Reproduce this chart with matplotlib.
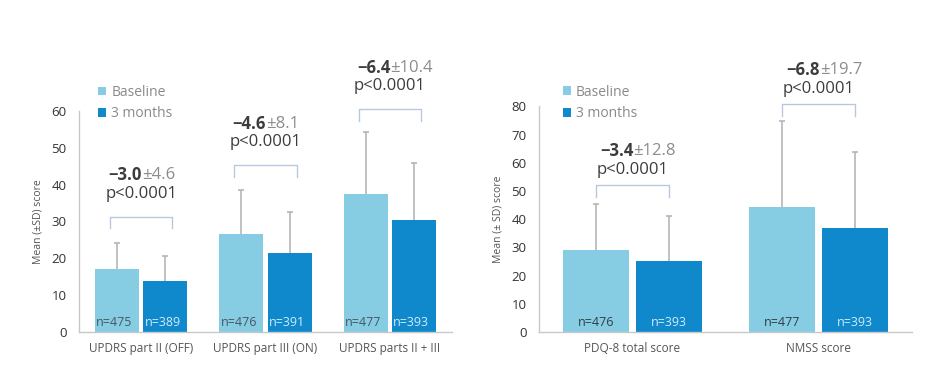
import numpy as np
import matplotlib
matplotlib.use('Agg')
import matplotlib.pyplot as plt

plt.rcParams['font.family'] = ['Open Sans', 'DejaVu Sans']

# left panel data
left_cats = ['UPDRS part II (OFF)', 'UPDRS part III (ON)', 'UPDRS parts II + III']
left_base = [17.1, 26.5, 37.4]
left_base_sd = [7.1, 12.1, 17.0]
left_3m = [13.9, 21.5, 30.4]
left_3m_sd = [6.8, 11.0, 15.4]
left_n_base = ['n=475', 'n=476', 'n=477']
left_n_3m = ['n=389', 'n=391', 'n=393']
left_diff = ['\u22123.0', '\u22124.6', '\u22126.4']
left_diff_sd = ['\u00b14.6', '\u00b18.1', '\u00b110.4']
left_p = ['p<0.0001', 'p<0.0001', 'p<0.0001']
left_bracket = [31.3, 45.3, 60.5]

# right panel data
right_cats = ['PDQ-8 total score', 'NMSS score']
right_base = [29.1, 44.5]
right_base_sd = [16.4, 30.4]
right_3m = [25.2, 36.9]
right_3m_sd = [15.8, 26.8]
right_n_base = ['n=476', 'n=477']
right_n_3m = ['n=393', 'n=393']
right_diff = ['\u22123.4', '\u22126.8']
right_diff_sd = ['\u00b112.8', '\u00b119.7']
right_p = ['p<0.0001', 'p<0.0001']
right_bracket = [52.1, 80.8]

LIGHT = '#86cde4'
DARK = '#0f88cc'
GREY_LINE = '#c8c8c8'
TXT = '#3c3c3c'

fig = plt.figure(figsize=(9.4, 3.7), dpi=100)
ax1 = fig.add_axes([79 / 940, 38 / 370, 373 / 940, 221 / 370])
ax2 = fig.add_axes([539 / 940, 38 / 370, 373 / 940, 225.6 / 370])

w = 0.355
off = 0.195


def draw_panel(ax, cats, base, base_sd, m3, m3_sd, nb, n3, diff, diff_sd, pv,
               br, ymax, ylabel, br_half, txt_gap, n_left, leg_pos):
    x = np.arange(len(cats))
    b1 = ax.bar(x - off, base, w, color=LIGHT, label='Baseline', zorder=2)
    b2 = ax.bar(x + off, m3, w, color=DARK, label='3 months', zorder=2)
    for xs, ys, sd in [(x - off, base, base_sd), (x + off, m3, m3_sd)]:
        eb = ax.errorbar(xs, ys, yerr=[np.zeros(len(x)), sd], fmt='none',
                         ecolor='#b0b0b0', elinewidth=1.1, capsize=2,
                         capthick=1.1, zorder=1)
        eb[1][0].set_visible(False)  # hide lower cap

    for i in range(len(x)):
        if n_left:
            ax.text(x[i] - off - w / 2 + 0.01, 0.8, nb[i], ha='left', va='bottom',
                    fontsize=9, color='#4a5560', zorder=3)
            ax.text(x[i] + off - w / 2 + 0.01, 0.8, n3[i], ha='left', va='bottom',
                    fontsize=9, color='#d4ecf8', zorder=3)
        else:
            ax.text(x[i] - off, 0.8 * ymax / 60, nb[i], ha='center', va='bottom',
                    fontsize=9, color='#333d45', zorder=3)
            ax.text(x[i] + off, 0.8 * ymax / 60, n3[i], ha='center', va='bottom',
                    fontsize=9, color='#d4ecf8', zorder=3)

        # bracket
        tick = ymax * 0.052
        ax.plot([x[i] - br_half, x[i] - br_half, x[i] + br_half, x[i] + br_half],
                [br[i] - tick, br[i], br[i], br[i] - tick],
                color='#b8c8dc', lw=1.0, clip_on=False, zorder=3)
        # labels above bracket
        ax.text(x[i] + 0.005, br[i] + txt_gap[1], diff[i], ha='right', va='center',
                fontsize=12, fontweight='bold', color=TXT, clip_on=False)
        ax.text(x[i] + 0.005, br[i] + txt_gap[1], diff_sd[i], ha='left', va='center',
                fontsize=12, color='#8c8c8c', clip_on=False)
        ax.text(x[i], br[i] + txt_gap[0], pv[i], ha='center', va='center',
                fontsize=12, color=TXT, clip_on=False)

    ax.set_xlim(-0.5, len(cats) - 0.5)
    ax.set_ylim(0, ymax)
    ax.set_xticks(x)
    ax.set_xticklabels(cats, fontsize=8.5, color='#555555')
    ax.set_yticks(np.arange(0, ymax + 1, 10))
    ax.tick_params(axis='y', length=0, pad=9, labelsize=9.5, labelcolor='#333333')
    ax.tick_params(axis='x', length=0, pad=7)
    ax.set_ylabel(ylabel, fontsize=7.5, color='#555555', labelpad=6)
    for s in ['top', 'right']:
        ax.spines[s].set_visible(False)
    for s in ['left', 'bottom']:
        ax.spines[s].set_color(GREY_LINE)
        ax.spines[s].set_linewidth(1.0)

    leg = ax.legend(handles=[b1, b2], loc='upper left', bbox_to_anchor=leg_pos,
                    frameon=False, fontsize=10, handlelength=0.6, handleheight=0.6,
                    handletextpad=0.35, labelspacing=0.45, borderpad=0,
                    borderaxespad=0)
    for t in leg.get_texts():
        t.set_color('#8a8a8a')


draw_panel(ax1, left_cats, left_base, left_base_sd, left_3m, left_3m_sd,
           left_n_base, left_n_3m, left_diff, left_diff_sd, left_p, left_bracket,
           60, 'Mean (\u00b1SD) score', 0.25, (6.2, 11.2), True, (0.051, 1.118))
draw_panel(ax2, right_cats, right_base, right_base_sd, right_3m, right_3m_sd,
           right_n_base, right_n_3m, right_diff, right_diff_sd, right_p, right_bracket,
           80, 'Mean (\u00b1 SD) score', 0.195, (5.4, 12.2), False, (0.064, 1.096))

fig.savefig('out.png', dpi=100)
